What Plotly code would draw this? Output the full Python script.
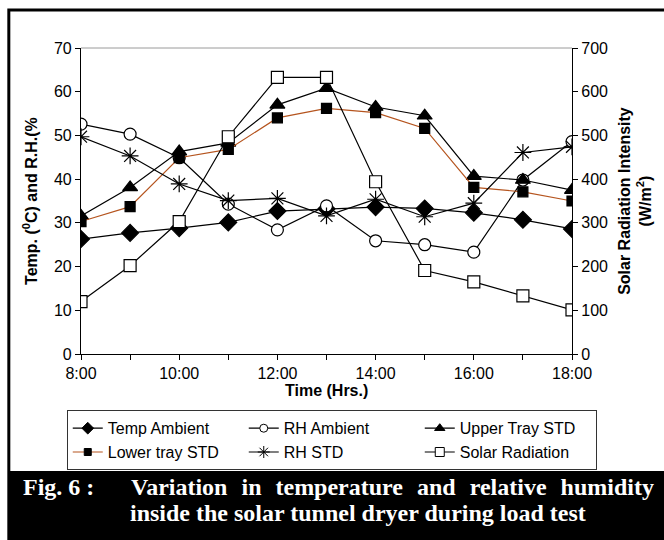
import plotly.graph_objects as go

hours = [8, 9, 10, 11, 12, 13, 14, 15, 16, 17, 18]
hour_ticks = [8, 9, 10, 11, 12, 13, 14, 15, 16, 17, 18]
hour_labels = ["8:00", "", "10:00", "", "12:00", "", "14:00", "", "16:00", "", "18:00"]
left_ticks = [0, 10, 20, 30, 40, 50, 60, 70]
right_ticks = [0, 100, 200, 300, 400, 500, 600, 700]

temp_ambient = [26.3, 27.7, 28.8, 30.1, 32.7, 33.2, 33.6, 33.3, 32.3, 30.7, 28.6]
rh_ambient = [52.6, 50.3, 44.9, 34.3, 28.4, 33.9, 25.9, 25.0, 23.3, 39.8, 48.6]
upper_tray = [31.6, 38.1, 46.3, 48.3, 57.0, 60.8, 56.5, 54.5, 40.7, 39.8, 37.5]
lower_tray = [30.3, 33.7, 44.9, 46.8, 54.0, 56.2, 55.2, 51.6, 38.1, 37.1, 35.0]
rh_std = [49.7, 45.3, 38.9, 35.1, 35.6, 31.6, 35.4, 31.4, 34.5, 46.1, 47.4]
solar = [120, 202, 303, 497, 633, 633, 394, 191, 165, 133, 101]

BLACK = "#000000"
BROWN = "#B5541E"

fig = go.Figure()

series = [
    # name, values, symbol, size, legend size, fill, line colour, axis
    ("Temp Ambient", temp_ambient, "diamond", 13, 9, BLACK, BLACK, "y"),
    ("RH Ambient", rh_ambient, "circle", 12, 8, "white", BLACK, "y"),
    ("Upper Tray STD", upper_tray, "triangle-up", 13, 9, BLACK, BLACK, "y"),
    ("Lower tray STD", lower_tray, "square", 10, 7, BLACK, BROWN, "y"),
    ("RH STD", rh_std, "asterisk-open", 14, 10, BLACK, BLACK, "y"),
    ("Solar Radiation", solar, "square", 12, 9, "white", BLACK, "y2"),
]

for name, vals, sym, size, lsize, fill, lcol, ax in series:
    fig.add_trace(go.Scatter(
        x=hours, y=vals, name=name, mode="lines+markers", yaxis=ax,
        line=dict(color=lcol, width=1.2),
        marker=dict(symbol=sym, size=size, color=fill, line=dict(color=BLACK, width=1.2)),
        showlegend=False,
    ))

for i, (name, vals, sym, size, lsize, fill, lcol, ax) in enumerate(series):
    fig.add_trace(go.Scatter(
        x=[None], y=[None], name=name, mode="lines+markers", yaxis=ax,
        line=dict(color=lcol, width=1.2),
        marker=dict(symbol=sym, size=lsize, color=fill, line=dict(color=BLACK, width=1)),
        showlegend=True, legendrank=i + 1,
    ))

axis_font = dict(family="Arial, Liberation Sans, sans-serif", size=16, color=BLACK)

fig.update_layout(
    width=664, height=540,
    margin=dict(l=81, r=92, t=48, b=186),
    paper_bgcolor="white", plot_bgcolor="white",
    font=axis_font,
    showlegend=True,
    xaxis=dict(range=[8, 18], tickvals=hour_ticks, ticktext=hour_labels,
               showgrid=False, zeroline=False, showline=True, linecolor=BLACK, linewidth=1.2,
               ticks="outside", ticklen=5, tickcolor=BLACK, tickfont=axis_font),
    yaxis=dict(range=[0, 70], tickvals=left_ticks, showgrid=False, zeroline=False,
               showline=True, linecolor=BLACK, linewidth=1.2,
               ticks="outside", ticklen=5, tickcolor=BLACK, tickfont=axis_font),
    yaxis2=dict(range=[0, 700], tickvals=right_ticks, overlaying="y", side="right",
                showgrid=False, zeroline=False, showline=True, linecolor=BLACK, linewidth=1.2,
                ticks="outside", ticklen=5, tickcolor=BLACK, tickfont=axis_font),
    legend=dict(orientation="h", x=-0.029, y=-0.184, xanchor="left", yanchor="top",
                bordercolor="#333333", borderwidth=1, bgcolor="white",
                entrywidth=131, font=dict(family="Arial, Liberation Sans, sans-serif", size=16, color=BLACK),
                itemwidth=30, tracegroupgap=0),
)

# plot top border, outer frame, caption band
fig.add_shape(type="line", xref="paper", yref="paper", x0=0, x1=1, y0=1, y1=1,
              line=dict(color="#9a9a9a", width=1))
fig.add_shape(type="rect", xref="paper", yref="paper", x0=-0.147, x1=1.25, y0=-0.62, y1=1.124,
              line=dict(color=BLACK, width=3), fillcolor="rgba(0,0,0,0)", layer="below")
fig.add_shape(type="rect", xref="paper", yref="paper", x0=-0.147, x1=1.25, y0=-0.62, y1=-0.382,
              line=dict(width=0), fillcolor=BLACK)

title_font = dict(family="Arial, Liberation Sans, sans-serif", size=16, color=BLACK)
fig.add_annotation(text="<b>Temp. (<sup>0</sup>C) and R.H.(%</b>", xref="paper", yref="paper",
                   x=-0.104, y=0.5, xanchor="center", yanchor="middle", textangle=-90,
                   showarrow=False, font=title_font)
fig.add_annotation(text="<b>Solar Radiation Intensity<br>(W/m<sup>2</sup>)</b>", xref="paper", yref="paper",
                   x=1.128, y=0.5, xanchor="center", yanchor="middle", textangle=-90,
                   showarrow=False, font=title_font)
fig.add_annotation(text="<b>Time (Hrs.)</b>", xref="paper", yref="paper",
                   x=0.5, y=-0.118, xanchor="center", yanchor="middle", showarrow=False, font=title_font)

cap_font = dict(family="Liberation Serif, Times New Roman, serif", size=24, color="white")
gap = "&#8196; "
fig.add_annotation(text="<b>Fig. 6 :</b>", xref="paper", yref="paper", x=-0.122, y=-0.435,
                   xanchor="left", yanchor="middle", showarrow=False, font=cap_font)
fig.add_annotation(text="<b>" + gap.join(["Variation", "in", "temperature", "and", "relative", "humidity"]) + "</b>",
                   xref="paper", yref="paper", x=0.097, y=-0.435,
                   xanchor="left", yanchor="middle", showarrow=False, font=cap_font)
fig.add_annotation(text="<b>inside the solar tunnel dryer during load test</b>", xref="paper", yref="paper",
                   x=0.096, y=-0.520, xanchor="left", yanchor="middle", showarrow=False, font=cap_font)

fig.write_html("out.html")
